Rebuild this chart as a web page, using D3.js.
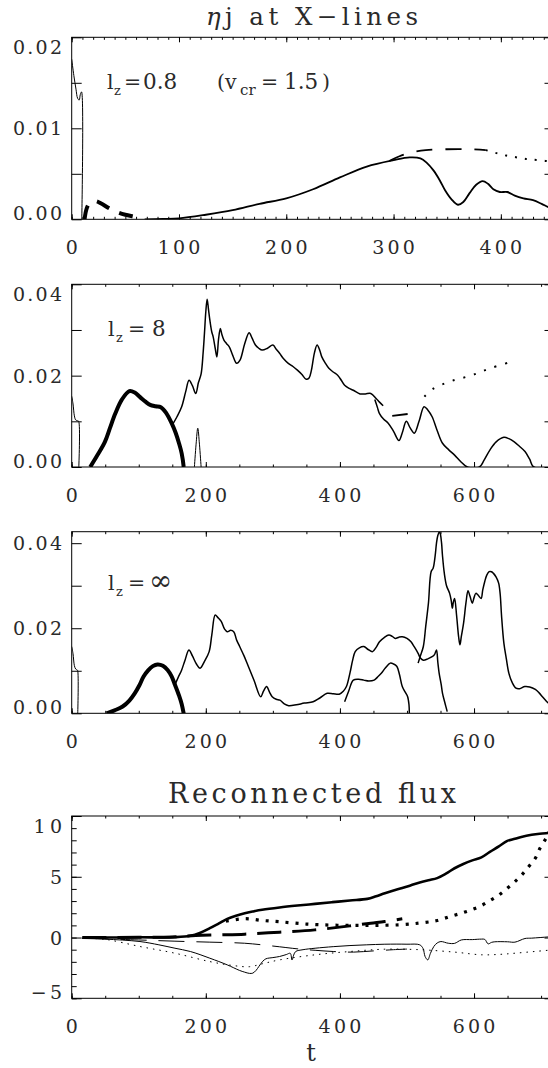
<!DOCTYPE html>
<html>
<head>
<meta charset="utf-8">
<script src="https://cdn.jsdelivr.net/npm/d3@7"></script>
<style>
  body { margin: 0; background: #fff; }
  text { font-family: "DejaVu Serif", serif; fill: #2a2a2a; }
</style>
</head>
<body>
<svg id="fig" width="548" height="1068"></svg>
<script>
// ---------- data (t, value) ----------
// panel 1 : lz = 0.8
const p1Thin = [[0,0.0176],[2,0.0158],[4,0.0143],[5.5,0.0133],[7,0.0131],[8,0.0137],[9.2,0.0140],[9.4,0]];
const p1ThickDash = [[12,0],[14,0.0012],[17,0.0018],[22,0.0020],[28,0.0017],[35,0.0012],[42,0.0008],[50,0.0005],[58,0.0003],[66,0.0001]];
const p1Main = [[68,0],[85,0.00004],[100,0.0001],[125,0.0005],[150,0.001],[175,0.0017],[200,0.0023],[225,0.0033],[250,0.0046],[275,0.0058],[300,0.0065],[315,0.0068],[325,0.0067],[331,0.0062],[337,0.0054],[343,0.0043],[348,0.0032],[354,0.0022],[360,0.0016],[365,0.0019],[371,0.0029],[377,0.0038],[383,0.0042],[388,0.0039],[393,0.0033],[399,0.0030],[406,0.0030],[413,0.0026],[421,0.0023],[430,0.0021],[438,0.0017],[445,0.0013],[450,0.0011]];
const p1Dash = [[296,0.0064],[305,0.0069],[315,0.0073],[330,0.0076],[350,0.0077],[370,0.0077],[386,0.0076]];
const p1Dot = [[386,0.0076],[395,0.0073],[405,0.0070],[415,0.0068],[425,0.0066],[435,0.0065],[450,0.0063]];

// panel 2 : lz = 8
const p2Thin = [[0,0.0155],[2,0.0138],[4,0.0112],[6,0.0103],[9,0.0101],[10.4,0.0100],[10.6,0]];
const p2Thick = [[27.6,0],[38,0.0025],[49.5,0.0055],[57,0.0085],[65,0.0117],[75,0.0148],[86,0.0166],[94,0.0163],[102,0.0153],[110,0.0143],[117,0.0136],[125,0.0133],[133,0.0131],[141,0.0118],[149,0.0096],[155,0.0075],[160,0.0052],[164,0.003],[167,0]];
const p2Spike = [[183,0],[185.5,0.005],[188,0.0085],[190.5,0.005],[193,0]];
const p2Main = [[150,0.0092],[157,0.011],[164,0.0132],[170,0.0165],[175,0.019],[180,0.0178],[185,0.0161],[189,0.0185],[193,0.0204],[196,0.025],[198,0.0293],[200,0.034],[202,0.0367],[204,0.0345],[206,0.0322],[209,0.0295],[211,0.0285],[214,0.026],[216.5,0.0241],[219,0.028],[221.7,0.0303],[224,0.029],[227,0.0278],[231,0.027],[235,0.0263],[240,0.0245],[246,0.0227],[251,0.0234],[258,0.027],[264.6,0.0294],[269,0.0282],[274,0.0267],[279,0.026],[284,0.0256],[292,0.026],[300,0.0267],[305,0.0258],[310,0.0249],[316,0.0237],[323,0.0227],[330,0.022],[336.6,0.0212],[343,0.0203],[349.7,0.0192],[354,0.0195],[357.5,0.0212],[362,0.025],[366,0.0267],[370,0.0255],[373,0.0241],[378,0.0228],[383.5,0.0216],[390,0.0208],[396.6,0.0201],[402,0.019],[407,0.0179],[414,0.0172],[420,0.0168],[430,0.016],[438,0.016],[446,0.0161],[454,0.015],[459,0.0142],[464.5,0.0134]];
const p2Low = [[452,0.0148],[456,0.013],[459,0.0117],[465,0.0105],[472,0.0096],[480,0.0078],[488,0.0058],[493,0.0075],[499,0.0100],[505,0.0085],[511,0.0074],[518,0.010],[525.5,0.0132],[531,0.0125],[537.5,0.011],[545,0.008],[553,0.0052],[562,0.0038],[571,0.0026],[580,0.0012],[590,0],[608,0],[615,0.0015],[623.6,0.0037],[633,0.0055],[644.5,0.0065],[652,0.0062],[660,0.0055],[668,0.0045],[676,0.0034],[683,0.0017],[689,0],[720,0]];
const p2Dash = [[478,0.0112],[501,0.0116]];
const p2Dot = [[526,0.0154],[540,0.0172],[566,0.0188],[597,0.0201],[624,0.0216],[659,0.0232]];

// panel 3 : lz = infinity
const p3Thin = [[0,0.0157],[2,0.0140],[4,0.0112],[6,0.0104],[8,0.0102],[8.8,0.0101],[9,0]];
const p3Thick = [[52,0],[64,0.0007],[76,0.0016],[86,0.003],[94,0.0047],[101,0.0066],[107,0.0086],[114,0.0101],[121,0.0111],[128,0.0115],[136,0.0112],[143,0.0102],[149,0.0087],[154,0.0067],[160,0.0042],[164,0.0022],[167,0]];
const p3A = [[154,0.0067],[159,0.0085],[164,0.0102],[169,0.0125],[174.8,0.0149],[180,0.0135],[186,0.0116],[191.5,0.0106],[198,0.0122],[205,0.0145],[209,0.0185],[214,0.0231],[218,0.0225],[223,0.0216],[228,0.0198],[232,0.0192],[237,0.0195],[241.6,0.0192],[246,0.0172],[250.5,0.0157],[257,0.0135],[263.5,0.011],[272,0.0077],[281.8,0.0039],[286,0.0052],[290.6,0.0063],[295,0.005],[299,0.0039],[305,0.0033],[310.5,0.0031],[317,0.0022],[323.5,0.0018],[335,0.002],[347,0.0024],[360,0.0027],[370,0.0036],[381,0.0047],[390,0.0046],[399,0.0045],[405,0.0052],[409.7,0.0063],[415,0.0095],[419,0.0125],[422.8,0.0145],[429,0.0154],[435.7,0.0157],[442,0.0150],[448.7,0.0145],[454,0.0155],[459,0.0168],[466,0.0178],[473,0.0184],[478,0.0181],[482.6,0.0176],[488,0.0179],[493,0.018],[500,0.0176],[506,0.0168],[511,0.0156],[516.6,0.0141],[520,0.0130],[524.4,0.0125],[531,0.0128],[537.5,0.0133],[541,0.0138],[544,0.0149],[546,0.012],[548,0.0094],[551,0.0068],[553,0.0047],[557,0.0022],[560,0.0004]];
const p3B = [[407,0.0027],[413,0.0052],[420,0.0078],[428,0.0080],[435.7,0.0078],[443,0.0076],[451,0.0078],[456,0.0085],[461.7,0.0094],[468,0.0107],[475,0.0118],[480,0.0116],[485,0.011],[489,0.0090],[493,0.0063],[498,0.0048],[501,0.0039],[503,0.002],[503.5,0]];
const p3C = [[516.6,0.0118],[520,0.0135],[524.4,0.0157],[528,0.0205],[532,0.0259],[536,0.0333],[539,0.0341],[542,0.037],[544,0.040],[546,0.0418],[548.5,0.0427],[550,0.042],[551.6,0.040],[553,0.037],[555.7,0.0329],[559,0.030],[563.6,0.0282],[566,0.0265],[567.7,0.0247],[569,0.026],[571,0.027],[574,0.023],[577,0.018],[579,0.0161],[581,0.018],[584.4,0.0212],[588,0.026],[591,0.0288],[594,0.0275],[597.5,0.0259],[600,0.0272],[602.7,0.0282],[606,0.0278],[610.5,0.027],[613,0.029],[616,0.031],[619,0.0325],[622.5,0.0333],[626,0.0333],[629,0.0329],[633,0.032],[636.7,0.0306],[639,0.028],[641,0.023],[644.5,0.0165],[648,0.013],[652,0.0094],[657,0.0072],[662.6,0.0059],[668,0.0058],[675.7,0.0063],[683,0.0062],[691.4,0.0056],[697,0.0048],[702,0.0039],[707,0.003],[711,0.0024],[720,0.0015]];

// panel 4 : reconnected flux
const p4Solid = [[16,0],[60,0],[100,0.02],[154,0.03],[177,0.14],[192,0.4],[206,0.77],[219,1.15],[232,1.54],[245,1.8],[258,2.0],[271,2.15],[284,2.28],[310,2.47],[336.6,2.63],[362.7,2.77],[388.8,2.91],[414.9,3.05],[440.8,3.18],[454,3.4],[467,3.65],[480,3.87],[493,4.07],[506,4.3],[519,4.53],[532,4.72],[545,4.89],[558,5.25],[571,5.7],[584,6.05],[597.5,6.35],[611,6.6],[623.6,7.05],[637,7.5],[649.7,7.95],[661,8.12],[672,8.3],[686,8.45],[698,8.54],[711,8.6],[720,8.64]];
const p4ThickDot = [[230,1.35],[258,1.55],[285,1.4],[310,1.3],[340,1.15],[370,1.05],[410,1.0],[450,1.0],[490,1.05],[520,1.2],[545,1.4],[564,1.73],[581,2.0],[596,2.28],[610,2.6],[624,3.05],[637,3.5],[650,4.07],[661,4.6],[672,5.2],[682.5,5.9],[692,6.58],[698.5,7.36],[707.5,8.18],[714,8.9]];
const p4ThickDash = [[16,0],[100,0.02],[150,0.05],[185,0.17],[220,0.22],[258,0.28],[310,0.44],[362.7,0.63],[415,0.96],[446,1.18],[467,1.32],[493,1.54]];
const p4Thin = [[16,-0.08],[49.5,-0.13],[101.8,-0.33],[130,-0.6],[154,-0.88],[177,-1.15],[206,-1.7],[232,-2.25],[250,-2.7],[258,-2.85],[265,-2.95],[270,-2.93],[275,-2.7],[279,-2.39],[285,-1.95],[289.6,-1.75],[300,-1.65],[310,-1.56],[320,-1.4],[326,-1.3],[328.5,-1.85],[331,-1.45],[334,-1.15],[345,-1.0],[363,-0.88],[390,-0.75],[415,-0.66],[440,-0.6],[467,-0.55],[500,-0.55],[519,-0.6],[524,-0.9],[527,-1.56],[531,-1.84],[535,-1.3],[540,-0.74],[545,-0.45],[550.6,-0.33],[561.6,-0.47],[571,-0.48],[581,-0.2],[597.5,-0.17],[611,-0.13],[616,-0.15],[621,-0.52],[626,-0.4],[631,-0.35],[650,-0.35],[661,-0.38],[676,-0.08],[686,-0.05],[711,0.05],[720,0.08]];
const p4ThinDot = [[16,-0.05],[50,-0.15],[102,-0.74],[154,-1.29],[206,-1.98],[240,-2.3],[265,-2.4],[285,-2.15],[310,-1.84],[363,-1.42],[415,-1.15],[467,-0.96],[519,-1.0],[571,-1.2],[611,-1.42],[640,-1.38],[661,-1.29],[690,-1.15],[720,-1.0]];
const p4ThinDash = [[16,-0.05],[100,-0.2],[154,-0.3],[206,-0.38],[258,-0.47],[300,-0.7],[340,-0.95],[363,-1.05],[390,-1.15],[420,-1.2],[450,-1.1],[480,-1.0],[500,-0.95]];

// tick labels
const p1XLabels = [0, 100, 200, 300, 400];
const p1YLabels = [[0, "0.00"], [0.01, "0.01"], [0.02, "0.02"]];
const longXLabels = [0, 200, 400, 600];
const p23YLabels = [[0, "0.00"], [0.02, "0.02"], [0.04, "0.04"]];
const p4YLabels = [[-5, "\u22125"], [0, "0"], [5, "5"], [10, "10"]];

// ---------- drawing ----------
const svg = d3.select("#fig");
const left = 71.7, right = 554.5;
const tickFont = 19;

function labelWidth(s) {
  let w = 0;
  for (const ch of s) w += ch === "." ? 6.4 : ch === "\u2212" ? 17 : 14.2;
  return w;
}

function panel(cfg) {
  const x = d3.scaleLinear().domain(cfg.xDomain).range([left, right]);
  const y = d3.scaleLinear().domain(cfg.yDomain).range([cfg.bottom, cfg.top]);
  const g = svg.append("g");

  const clipId = "clip" + cfg.id;
  svg.append("clipPath").attr("id", clipId).append("rect")
    .attr("x", left).attr("y", cfg.top)
    .attr("width", right - left).attr("height", cfg.bottom - cfg.top);

  const line = d3.line()
    .x(d => x(d[0])).y(d => y(d[1]))
    .curve(d3.curveCatmullRom.alpha(0.5));

  const cg = g.append("g").attr("clip-path", `url(#${clipId})`);
  cfg.curves.forEach(c => {
    cg.append("path").datum(c.data)
      .attr("d", line)
      .attr("fill", "none")
      .attr("stroke", "#000")
      .attr("stroke-width", c.w)
      .attr("stroke-linejoin", "round")
      .attr("stroke-linecap", c.cap || "butt")
      .attr("stroke-dasharray", c.dash || null);
  });

  // frame
  g.append("rect")
    .attr("x", left).attr("y", cfg.top)
    .attr("width", right - left).attr("height", cfg.bottom - cfg.top)
    .attr("fill", "none").attr("stroke", "#000").attr("stroke-width", 1);

  const xMinor = d3.range(cfg.xDomain[0], cfg.xDomain[1] + 1e-9, cfg.xMinorStep);
  const xMajor = d3.range(cfg.xDomain[0], cfg.xDomain[1] + 1e-9, cfg.xMajorStep);
  const yMinor = cfg.yMinorStep ? d3.range(cfg.yDomain[0], cfg.yDomain[1] + 1e-9, cfg.yMinorStep) : [];
  const yMajor = d3.range(cfg.yTickStart, cfg.yDomain[1] + 1e-9, cfg.yMajorStep);

  const ax = (axis, vals, len, tr) => g.append("g")
    .attr("transform", tr).attr("color", "#000")
    .call(axis.tickValues(vals).tickSize(-len).tickFormat(""))
    .call(a => a.select(".domain").remove());

  ax(d3.axisBottom(x), xMinor, 2.5, `translate(0,${cfg.bottom})`);
  ax(d3.axisBottom(x), xMajor, 5, `translate(0,${cfg.bottom})`);
  ax(d3.axisTop(x), xMinor, 2.5, `translate(0,${cfg.top})`);
  ax(d3.axisTop(x), xMajor, 5, `translate(0,${cfg.top})`);
  if (yMinor.length) {
    ax(d3.axisLeft(y), yMinor, 5, `translate(${left},0)`);
    ax(d3.axisRight(y), yMinor, 5, `translate(${right},0)`);
  }
  ax(d3.axisLeft(y), yMajor, 10, `translate(${left},0)`);
  ax(d3.axisRight(y), yMajor, 10, `translate(${right},0)`);

  // x tick labels
  cfg.xLabels.forEach(v => {
    const s = String(v);
    const t = g.append("text")
      .attr("x", x(v)).attr("y", cfg.bottom + 35)
      .attr("text-anchor", "middle").attr("font-size", tickFont)
      .text(s);
    if (s.length > 1) t.attr("textLength", labelWidth(s)).attr("lengthAdjust", "spacing");
  });
  // y tick labels (kept inside the box vertically)
  cfg.yLabels.forEach(([v, s]) => {
    const cy = Math.max(cfg.top + 10, Math.min(cfg.bottom - 6.5, y(v)));
    const t = g.append("text")
      .attr("x", 62).attr("y", cy + 7)
      .attr("text-anchor", "end").attr("font-size", tickFont)
      .text(s);
    if (s.length > 1) t.attr("textLength", labelWidth(s)).attr("lengthAdjust", "spacing");
  });
  return g;
}

const thin = 1, mid = 1.8, thick = 4;

panel({
  id: 1, top: 37.3, bottom: 219.3, xDomain: [0, 450], yDomain: [0, 0.02],
  xMajorStep: 100, xMinorStep: 10, yMajorStep: 0.005, yTickStart: 0,
  xLabels: p1XLabels, yLabels: p1YLabels,
  curves: [
    { data: p1Thin, w: thin },
    { data: p1ThickDash, w: thick, dash: "14,11" },
    { data: p1Main, w: mid },
    { data: p1Dash, w: mid, dash: "16,13" },
    { data: p1Dot, w: 2, dash: "2,8" }
  ]
});

panel({
  id: 2, top: 284.3, bottom: 467, xDomain: [0, 720], yDomain: [0, 0.04],
  xMajorStep: 200, xMinorStep: 50, yMajorStep: 0.01, yTickStart: 0,
  xLabels: longXLabels, yLabels: p23YLabels,
  curves: [
    { data: p2Thin, w: thin },
    { data: p2Thick, w: thick },
    { data: p2Spike, w: thin },
    { data: p2Main, w: 1.5 },
    { data: p2Low, w: 1.5 },
    { data: p2Dash, w: mid },
    { data: p2Dot, w: 2, dash: "2,9" }
  ]
});

panel({
  id: 3, top: 531.7, bottom: 713.3, xDomain: [0, 720], yDomain: [0, 0.0427],
  xMajorStep: 200, xMinorStep: 50, yMajorStep: 0.01, yTickStart: 0,
  xLabels: longXLabels, yLabels: p23YLabels,
  curves: [
    { data: p3Thin, w: thin },
    { data: p3Thick, w: thick },
    { data: p3A, w: 1.5 },
    { data: p3B, w: 1.5 },
    { data: p3C, w: 1.5 }
  ]
});

panel({
  id: 4, top: 816, bottom: 998.3, xDomain: [0, 720], yDomain: [-5, 10],
  xMajorStep: 200, xMinorStep: 50, yMajorStep: 5, yMinorStep: 1, yTickStart: -5,
  xLabels: longXLabels, yLabels: p4YLabels,
  curves: [
    { data: p4ThinDot, w: 1, dash: "1.5,5" },
    { data: p4ThinDash, w: 1, dash: "26,12" },
    { data: p4Thin, w: 1 },
    { data: p4ThickDash, w: 3, dash: "24,11" },
    { data: p4ThickDot, w: 3.2, dash: "3,7" },
    { data: p4Solid, w: 2.6 }
  ]
});

// titles
const t1 = svg.append("text").attr("x", 312).attr("y", 25)
  .attr("text-anchor", "middle").attr("font-size", 24.5)
  .attr("textLength", 212).attr("lengthAdjust", "spacing");
t1.append("tspan").attr("font-style", "italic").text("\u03b7");
t1.append("tspan").text("j at X\u2212lines");

svg.append("text").attr("x", 312).attr("y", 803)
  .attr("text-anchor", "middle").attr("font-size", 27)
  .attr("textLength", 288).attr("lengthAdjust", "spacing")
  .text("Reconnected flux");

svg.append("text").attr("x", 311).attr("y", 1061)
  .attr("text-anchor", "middle").attr("font-size", 24).text("t");

// in-panel annotations, each piece placed where it sits in the figure
function note(parts, base) {
  parts.forEach(p => {
    svg.append("text")
      .attr("x", p.x).attr("y", base + (p.sub ? 6 : 0))
      .attr("font-size", p.size || (p.sub ? 13 : 20.5))
      .text(p.s);
  });
}
note([
  { x: 107, s: "l" }, { x: 114, s: "z", sub: true },
  { x: 124, s: "=" }, { x: 143, s: "0.8", size: 21.5 },
  { x: 217, s: "(" }, { x: 225, s: "v" }, { x: 240, s: "cr", sub: true, size: 15 },
  { x: 261, s: "=" }, { x: 284, s: "1.5", size: 21.5 }, { x: 322, s: ")" }
], 88.5);
note([
  { x: 108, s: "l" }, { x: 116, s: "z", sub: true },
  { x: 128, s: "=" }, { x: 152, s: "8", size: 21.5 }
], 336);
note([
  { x: 108, s: "l" }, { x: 116, s: "z", sub: true },
  { x: 128, s: "=" }, { x: 149, s: "\u221e", size: 28 }
], 590);
</script>
</body>
</html>
